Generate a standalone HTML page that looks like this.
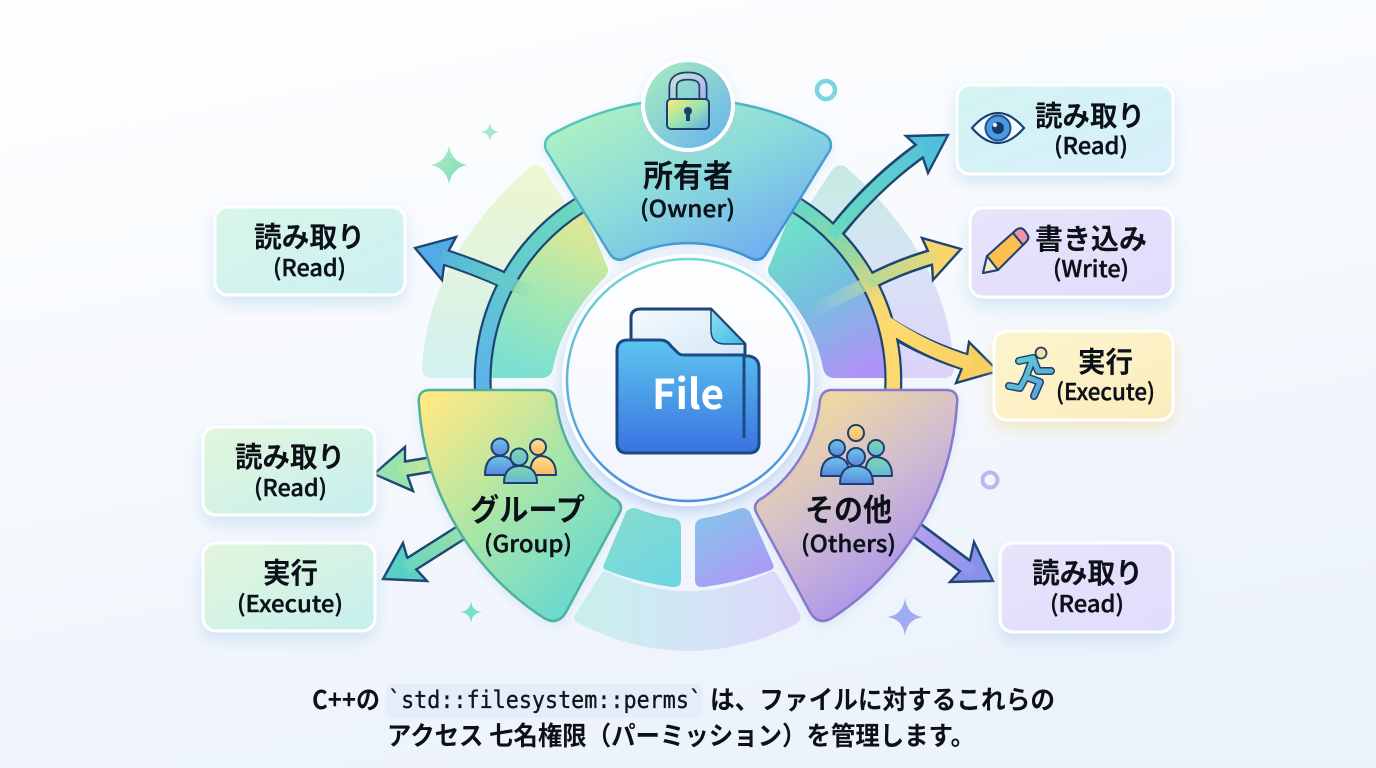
<!DOCTYPE html>
<html lang="ja">
<head>
<meta charset="utf-8">
<title>std::filesystem::perms</title>
<style>
html,body{margin:0;padding:0;width:1376px;height:768px;overflow:hidden;background:#f6fafd}
svg{display:block}
text{font-family:"Noto Sans CJK JP","Liberation Sans",sans-serif;fill:#0c1018}
.jp{font-size:28.5px;font-weight:700}
.en{font-size:23px;font-weight:500;stroke:#0c1018;stroke-width:.4px}
.big{font-size:31px;font-weight:700}
.cap{font-size:26px;font-weight:700}
.code{font-family:"DejaVu Sans Mono","Liberation Mono",monospace;font-size:24px;font-weight:400;fill:#10151c;stroke:#10151c;stroke-width:.35px}
.d{fill:none;stroke:#1d4673;stroke-linecap:butt}
.f{fill:none;stroke-linecap:butt}
.h{stroke:#1d4673;stroke-width:2.4;stroke-linejoin:miter}
.o{stroke:#1f3f73;stroke-width:2;stroke-linejoin:round}
</style>
</head>
<body>
<svg width="1376" height="768" viewBox="0 0 1376 768" xmlns="http://www.w3.org/2000/svg">
<defs>
<linearGradient id="bg" x1="0" y1="0" x2="0.35" y2="1"><stop offset="0" stop-color="#fdfeff"/><stop offset=".5" stop-color="#f7fafe"/><stop offset="1" stop-color="#edf3fb"/></linearGradient>
<filter id="sh" x="-20%" y="-20%" width="140%" height="150%"><feDropShadow dx="0" dy="8" stdDeviation="8" flood-color="#9cc4e4" flood-opacity=".38"/></filter>
<filter id="shy" x="-20%" y="-20%" width="140%" height="150%"><feDropShadow dx="0" dy="7" stdDeviation="8" flood-color="#f0d890" flood-opacity=".5"/></filter>
<filter id="shc" x="-20%" y="-20%" width="140%" height="140%"><feDropShadow dx="0" dy="5" stdDeviation="8" flood-color="#6fa0e8" flood-opacity=".5"/></filter>
<filter id="shs" x="-20%" y="-20%" width="140%" height="140%"><feDropShadow dx="0" dy="3" stdDeviation="5" flood-color="#9cc4e4" flood-opacity=".3"/></filter>

<linearGradient id="c1" x1="0" y1="0" x2="1" y2="1"><stop offset="0" stop-color="#d2f4f2"/><stop offset="1" stop-color="#d8effa"/></linearGradient>
<linearGradient id="c2" x1="0" y1="0" x2="1" y2="1"><stop offset="0" stop-color="#e8e4fb"/><stop offset="1" stop-color="#e0dcfb"/></linearGradient>
<linearGradient id="c3" x1="0" y1="0" x2="1" y2="1"><stop offset="0" stop-color="#fdf5cf"/><stop offset="1" stop-color="#fbecbc"/></linearGradient>
<linearGradient id="c4" x1="0" y1="0" x2="1" y2="1"><stop offset="0" stop-color="#d8f6e8"/><stop offset="1" stop-color="#ccf0f3"/></linearGradient>
<linearGradient id="c5" x1="0" y1="0" x2="1" y2="1"><stop offset="0" stop-color="#e2f6da"/><stop offset="1" stop-color="#c6eff0"/></linearGradient>

<linearGradient id="lo" x1="0" y1="0" x2="0" y2="1"><stop offset="0" stop-color="#eef6cf"/><stop offset="1" stop-color="#d2f1f0"/></linearGradient>
<linearGradient id="li" x1="0.7" y1="0" x2="0.4" y2="1"><stop offset="0" stop-color="#e6e98e"/><stop offset=".55" stop-color="#a3e8b4"/><stop offset="1" stop-color="#7be0d0"/></linearGradient>
<linearGradient id="ro" x1="0" y1="0" x2="0" y2="1"><stop offset="0" stop-color="#c6ebe2"/><stop offset=".45" stop-color="#d8e4f6"/><stop offset="1" stop-color="#ddd3fa"/></linearGradient>
<linearGradient id="ri" x1="0.3" y1="0" x2="0.7" y2="1"><stop offset="0" stop-color="#6de4c6"/><stop offset=".5" stop-color="#76bfe0"/><stop offset="1" stop-color="#ae94f6"/></linearGradient>

<linearGradient id="rl" gradientUnits="userSpaceOnUse" x1="560" y1="200" x2="480" y2="390"><stop offset="0" stop-color="#6bd8bd"/><stop offset=".5" stop-color="#62c6d2"/><stop offset="1" stop-color="#5cb2ea"/></linearGradient>
<linearGradient id="rr" gradientUnits="userSpaceOnUse" x1="800" y1="200" x2="895" y2="390"><stop offset="0" stop-color="#62d8c4"/><stop offset=".35" stop-color="#9bd6a0"/><stop offset=".6" stop-color="#fbd772"/><stop offset="1" stop-color="#fdd96f"/></linearGradient>

<linearGradient id="a1" gradientUnits="userSpaceOnUse" x1="838" y1="228" x2="948" y2="135"><stop offset="0" stop-color="#66d9c0"/><stop offset="1" stop-color="#52bfdc"/></linearGradient>
<linearGradient id="a2" gradientUnits="userSpaceOnUse" x1="870" y1="282" x2="960" y2="250"><stop offset="0" stop-color="#b5d893"/><stop offset="1" stop-color="#fbd873"/></linearGradient>
<linearGradient id="a2f" gradientUnits="userSpaceOnUse" x1="810" y1="312" x2="872" y2="281"><stop offset="0" stop-color="#a8cfd8" stop-opacity="0"/><stop offset="1" stop-color="#a6d6a8"/></linearGradient>
<linearGradient id="a3" gradientUnits="userSpaceOnUse" x1="890" y1="330" x2="998" y2="371"><stop offset="0" stop-color="#fdd96f"/><stop offset="1" stop-color="#f9cf62"/></linearGradient>
<linearGradient id="a4" gradientUnits="userSpaceOnUse" x1="500" y1="280" x2="415" y2="248"><stop offset="0" stop-color="#64ccc6"/><stop offset="1" stop-color="#50a8e6"/></linearGradient>
<linearGradient id="a4f" gradientUnits="userSpaceOnUse" x1="505" y1="281" x2="552" y2="301"><stop offset="0" stop-color="#7ad8bd"/><stop offset="1" stop-color="#b8e8a8" stop-opacity="0"/></linearGradient>
<linearGradient id="a5" gradientUnits="userSpaceOnUse" x1="430" y1="465" x2="374" y2="474"><stop offset="0" stop-color="#c2e89a"/><stop offset="1" stop-color="#8ee2b0"/></linearGradient>
<linearGradient id="a6" gradientUnits="userSpaceOnUse" x1="460" y1="530" x2="383" y2="579"><stop offset="0" stop-color="#94e2a8"/><stop offset="1" stop-color="#56cfc6"/></linearGradient>
<linearGradient id="a7" gradientUnits="userSpaceOnUse" x1="915" y1="530" x2="993" y2="581"><stop offset="0" stop-color="#b6a0f0"/><stop offset="1" stop-color="#8790ea"/></linearGradient>

<linearGradient id="own" x1="0.05" y1="0.1" x2="0.85" y2="1"><stop offset="0" stop-color="#b0f2c2"/><stop offset=".5" stop-color="#8adadc"/><stop offset="1" stop-color="#6ca8f4"/></linearGradient>
<linearGradient id="owns" x1="0" y1="0" x2="1" y2="1"><stop offset="0" stop-color="#58cdb8"/><stop offset="1" stop-color="#3b86d8"/></linearGradient>
<linearGradient id="grp" x1="0.05" y1="0.05" x2="0.8" y2="0.95"><stop offset="0" stop-color="#ffe985"/><stop offset=".5" stop-color="#a8e6a8"/><stop offset="1" stop-color="#66d8d2"/></linearGradient>
<linearGradient id="oth" x1="0.15" y1="0.05" x2="0.7" y2="0.95"><stop offset="0" stop-color="#f8dd98"/><stop offset=".5" stop-color="#cfbdd0"/><stop offset="1" stop-color="#a68cf2"/></linearGradient>

<linearGradient id="bt" x1="0.2" y1="0" x2="0.8" y2="1"><stop offset="0" stop-color="#86dccf"/><stop offset="1" stop-color="#6fd6e2"/></linearGradient>
<linearGradient id="bp" x1="0.2" y1="0" x2="0.8" y2="1"><stop offset="0" stop-color="#86c4ea"/><stop offset="1" stop-color="#b096f8"/></linearGradient>
<linearGradient id="bb" x1="0" y1="0" x2="1" y2="0"><stop offset="0" stop-color="#c8f0ea"/><stop offset=".5" stop-color="#d3e6f6"/><stop offset="1" stop-color="#dcd6fa"/></linearGradient>

<linearGradient id="cs" x1="0" y1="0" x2="0" y2="1"><stop offset="0" stop-color="#72d8d8"/><stop offset="1" stop-color="#4c8fe4"/></linearGradient>
<linearGradient id="cf" x1="0" y1="0" x2="0" y2="1"><stop offset="0" stop-color="#ffffff"/><stop offset="1" stop-color="#f1f5fd"/></linearGradient>
<linearGradient id="fold" x1="0" y1="0" x2="0" y2="1"><stop offset="0" stop-color="#5cc6ee"/><stop offset="1" stop-color="#3a72e0"/></linearGradient>
<linearGradient id="pap" x1="0" y1="0" x2="1" y2="1"><stop offset="0" stop-color="#f5fafe"/><stop offset="1" stop-color="#cfe4f6"/></linearGradient>
<linearGradient id="ear" x1="0" y1="0" x2="1" y2="1"><stop offset="0" stop-color="#8fe0f0"/><stop offset="1" stop-color="#3cbbe8"/></linearGradient>

<linearGradient id="badge" x1="0" y1="0" x2="1" y2="1"><stop offset="0" stop-color="#aef0bc"/><stop offset="1" stop-color="#62aef0"/></linearGradient>
<linearGradient id="lk" x1="0" y1="0" x2="1" y2="1"><stop offset="0" stop-color="#ffea70"/><stop offset=".5" stop-color="#9be6b0"/><stop offset="1" stop-color="#5ea6ee"/></linearGradient>
<linearGradient id="sk" x1="0" y1="0" x2="1" y2="1"><stop offset="0" stop-color="#c2e4d8"/><stop offset="1" stop-color="#b0b2e8"/></linearGradient>
<linearGradient id="pb" x1="0" y1="0" x2="0" y2="1"><stop offset="0" stop-color="#6cc6e6"/><stop offset="1" stop-color="#5a86e2"/></linearGradient>
<linearGradient id="pg" x1="0" y1="0" x2="0" y2="1"><stop offset="0" stop-color="#7fd8ae"/><stop offset="1" stop-color="#66b8d8"/></linearGradient>
<linearGradient id="py" x1="0" y1="0" x2="0" y2="1"><stop offset="0" stop-color="#fde08a"/><stop offset="1" stop-color="#f8b968"/></linearGradient>
<linearGradient id="run" x1="0" y1="0" x2="1" y2="1"><stop offset="0" stop-color="#5ed6c4"/><stop offset="1" stop-color="#5c98e4"/></linearGradient>
<linearGradient id="spk" x1="0" y1="0" x2="1" y2="1"><stop offset="0" stop-color="#b4ecc0"/><stop offset="1" stop-color="#78dcc0"/></linearGradient>
<linearGradient id="spp" x1="0" y1="0" x2="1" y2="1"><stop offset="0" stop-color="#8ab8f0"/><stop offset="1" stop-color="#b4a0f4"/></linearGradient>
</defs>

<rect width="1376" height="768" fill="url(#bg)"/>

<!-- faded sectors -->
<path d="M527,170 Q535,160 544,170 L606,264 Q610,270 606,276 Q562,320 553,368 Q551,378 541,378 L432,378 Q422,378 422,368 Q428,258 527,170Z" fill="url(#lo)"/>
<path d="M849,170 Q841,160 832,170 L770,264 Q766,270 770,276 Q814,320 823,368 Q825,378 835,378 L944,378 Q954,378 954,368 Q948,258 849,170Z" fill="url(#ro)"/>
<path d="M584,210 L606,264 Q610,270 606,276 Q562,320 553,368 Q551,378 541,378 L492,378 A197 197 0 0 1 584,210Z" fill="url(#li)"/>
<path d="M792,210 L770,264 Q766,270 770,276 Q814,320 823,368 Q825,378 835,378 L884,378 A197 197 0 0 0 792,210Z" fill="url(#ri)"/>

<!-- bottom pieces -->
<path d="M576,622 Q572,618 577,612 L601,574 Q604,570 608,572 Q688,610 770,572 Q774,570 777,574 L799,612 Q803,620 796,624 Q688,678 580,624Z" fill="url(#bb)"/>
<path d="M626,512 Q631,506 638,509 Q656,516 672,518 Q681,519 681,527 L681,580 Q681,588 672,587 Q636,582 606,570 Q602,568 604,564Z" fill="url(#bt)"/>
<path d="M750,512 Q745,506 738,509 Q720,516 704,518 Q695,519 695,527 L695,580 Q695,588 704,587 Q740,582 771,570 Q775,568 773,564Z" fill="url(#bp)"/>

<!-- dark layers -->
<path class="d" stroke-width="18" d="M580,205 A206 206 0 0 0 483,392"/>
<path class="d" stroke-width="18" d="M796,205 A206 206 0 0 1 893,392"/>
<path class="d" stroke-width="17" d="M838,229 Q875,182 925,147"/>
<path class="d" stroke-width="17" d="M872,281 Q900,266 936,256"/>
<path class="d" stroke-width="18" d="M888,326 Q925,350 972,364"/>
<path class="d" stroke-width="17" d="M504,280 Q475,267 441,256"/>
<path class="d" stroke-width="17" d="M440,463 L398,470"/>
<path class="d" stroke-width="17" d="M465,530 L405,568"/>
<path class="d" stroke-width="17" d="M910,525 L973,572"/>

<!-- arrow heads -->
<polygon class="h" fill="#52bfdc" points="948,135 906,136 917,146 923,158 928,173"/>
<polygon class="h" fill="#fad56e" points="961,249 922,238 928,251 932,265 933,280"/>
<polygon class="h" fill="#f9cf62" points="998,371 969,342 967,355 962,368 956,383"/>
<polygon class="h" fill="#52abe6" points="415,248 456,237 449,250 444,266 442,280"/>
<polygon class="h" fill="#98e4ae" points="374,474 405,447 405,462 408,477 413,491"/>
<polygon class="h" fill="#58d0c6" points="383,579 403,543 407,557 415,568 427,581"/>
<polygon class="h" fill="#8790ea" points="993,581 974,542 970,560 961,570 950,582"/>

<!-- fills -->
<path class="f" stroke="url(#a2f)" stroke-width="13" d="M810,312 L872,281"/>
<path class="f" stroke="url(#a4f)" stroke-width="13" d="M505,281 L552,301"/>
<path class="f" stroke="url(#rl)" stroke-width="13.5" d="M580,205 A206 206 0 0 0 483,392"/>
<path class="f" stroke="url(#rr)" stroke-width="13.5" d="M796,205 A206 206 0 0 1 893,392"/>
<path class="f" stroke="url(#a1)" stroke-width="12" d="M832,236 Q875,182 925,147"/>
<path class="f" stroke="url(#a2)" stroke-width="12" d="M868,283 Q900,266 936,256"/>
<path class="f" stroke="url(#a3)" stroke-width="14" d="M885,322 Q925,350 972,364"/>
<path class="f" stroke="url(#a4)" stroke-width="13" d="M508,282 Q475,267 441,256"/>
<path class="f" stroke="url(#a5)" stroke-width="12" d="M440,463 L398,470"/>
<path class="f" stroke="url(#a6)" stroke-width="12" d="M465,530 L405,568"/>
<path class="f" stroke="url(#a7)" stroke-width="12" d="M910,525 L973,572"/>

<!-- Owner sector -->
<path d="M556,132 A281 281 0 0 1 820,132 Q834,138 830,150 L766,254 Q760,263 750,258 A137 137 0 0 0 626,258 Q616,263 610,254 L546,150 Q542,138 556,132Z" fill="url(#own)" stroke="url(#owns)" stroke-width="2.5" filter="url(#shs)"/>
<!-- Group shield -->
<path d="M430,390 L544,390 Q554,390 556,400 A138 138 0 0 0 612,497 Q624,503 620,512 L566,612 Q558,626 544,618 A275 275 0 0 1 419,404 Q417,390 430,390Z" fill="url(#grp)" stroke="#4fb29a" stroke-width="2.5" filter="url(#shs)"/>
<!-- Others shield -->
<path d="M946,390 L832,390 Q822,390 820,400 A138 138 0 0 1 764,497 Q752,503 756,512 L810,612 Q818,626 832,618 A275 275 0 0 0 957,404 Q959,390 946,390Z" fill="url(#oth)" stroke="#8a78cf" stroke-width="2.5" filter="url(#shs)"/>

<!-- Center circle -->
<circle cx="688" cy="380" r="126" fill="#fff" opacity=".9" filter="url(#shc)"/>
<circle cx="688" cy="380" r="121" fill="url(#cf)" stroke="url(#cs)" stroke-width="2.5"/>

<!-- Folder -->
<path d="M631,340 V318 Q631,309 641,309 L711,309 L745,344 V372 L631,372Z" fill="url(#pap)" stroke="#1d4673" stroke-width="3" stroke-linejoin="round"/>
<path d="M711,309 L745,344 H725 Q711,344 711,330Z" fill="url(#ear)" stroke="#1d4673" stroke-width="1.5" stroke-linejoin="round"/>
<path d="M628,340 H660 Q667,340 671,346 L678,353 Q680,355 684,355 H744 L745,356 H749 Q759,358 759,368 V443 Q759,453 749,453 H627 Q617,453 617,443 V351 Q617,340 628,340Z" fill="url(#fold)" stroke="#1d4a86" stroke-width="3" stroke-linejoin="round"/>
<path d="M744,355 V438" stroke="#1d4a86" stroke-width="3" fill="none"/>
<text x="652" y="409" textLength="72" lengthAdjust="spacingAndGlyphs" style="font-size:41px;font-weight:700;fill:#fff">File</text>

<!-- Owner badge -->
<circle cx="688" cy="105" r="45" fill="url(#badge)" stroke="#fff" stroke-width="4" filter="url(#shs)"/>
<path d="M673,99 V87 Q673,76 688,76 Q703,76 703,87 V99" fill="none" stroke="#1f3f73" stroke-width="9"/>
<path d="M673,99 V87 Q673,76 688,76 Q703,76 703,87 V99" fill="none" stroke="url(#sk)" stroke-width="5.5"/>
<rect x="667" y="99" width="42" height="30" rx="4" fill="url(#lk)" stroke="#1f3f73" stroke-width="2"/>
<circle cx="688" cy="111" r="4" fill="#1f3f73"/><rect x="686" y="112" width="4" height="9" fill="#1f3f73"/>

<!-- people -->
<g class="o">
<circle class="o" cx="538" cy="447" r="8" fill="url(#py)"/>
<path class="o" fill="url(#py)" d="M530,475 Q530,456 542,456 Q556,458 556,475Z"/>
<circle class="o" cx="500" cy="447" r="8.5" fill="url(#pb)"/>
<path class="o" fill="url(#pb)" d="M485,475 Q485,456 500,456 Q515,456 515,475Z"/>
<circle class="o" cx="519" cy="457" r="8.5" fill="url(#pg)"/>
<path class="o" fill="url(#pg)" d="M504,483 Q504,466 520,466 Q537,466 537,483Z"/>
<circle class="o" cx="856" cy="433" r="8" fill="url(#py)"/>
<circle class="o" cx="837" cy="448" r="8" fill="url(#pb)"/>
<path class="o" fill="url(#pb)" d="M821,476 Q821,457 837,457 Q849,458 850,476Z"/>
<circle class="o" cx="876" cy="448" r="8" fill="url(#pg)"/>
<path class="o" fill="url(#pg)" d="M865,476 Q865,457 876,457 Q892,458 892,476Z"/>
<circle class="o" cx="856" cy="457" r="9" fill="url(#pb)"/>
<path class="o" fill="url(#pb)" d="M840,484 Q840,466 856,466 Q873,466 873,484Z"/>
</g>

<!-- sparkles / rings -->
<path d="M449,146 Q452,162 467,165 Q452,168 449,184 Q446,168 431,165 Q446,162 449,146Z" fill="url(#spk)"/>
<path d="M490,123 Q491,131 499,132 Q491,133 490,141 Q489,133 481,132 Q489,131 490,123Z" fill="#a6e8cc"/>
<path d="M471,601 Q472,611 482,612 Q472,613 471,623 Q470,613 460,612 Q470,611 471,601Z" fill="#7be0c8"/>
<path d="M905,598 Q907,615 923,617 Q907,619 905,636 Q903,619 887,617 Q903,615 905,598Z" fill="url(#spp)"/>
<circle cx="826" cy="90" r="9" fill="none" stroke="#7dd4e0" stroke-width="4.5"/>
<circle cx="990" cy="480" r="7.5" fill="none" stroke="#bdb6ee" stroke-width="4"/>

<!-- Cards -->
<rect x="957" y="85" width="216" height="89" rx="13" fill="url(#c1)" stroke="#fff" stroke-width="3" filter="url(#sh)"/>
<rect x="970" y="208" width="203" height="89" rx="13" fill="url(#c2)" stroke="#fff" stroke-width="3" filter="url(#sh)"/>
<rect x="994" y="331" width="179" height="89" rx="13" fill="url(#c3)" stroke="#fff" stroke-width="3" filter="url(#shy)"/>
<rect x="1000" y="543" width="173" height="89" rx="13" fill="url(#c2)" stroke="#fff" stroke-width="3" filter="url(#sh)"/>
<rect x="215" y="207" width="190" height="88" rx="13" fill="url(#c4)" stroke="#fff" stroke-width="3" filter="url(#sh)"/>
<rect x="203" y="427" width="172" height="88" rx="13" fill="url(#c5)" stroke="#fff" stroke-width="3" filter="url(#sh)"/>
<rect x="203" y="543" width="172" height="88" rx="13" fill="url(#c5)" stroke="#fff" stroke-width="3" filter="url(#sh)"/>

<!-- Eye -->
<path d="M972,128 Q998,98 1024,128 Q998,158 972,128Z" fill="#f4fbff" stroke="#1f3f73" stroke-width="2.2"/>
<circle cx="998" cy="128" r="12.5" fill="#4a9ce0" stroke="#1f4f8c" stroke-width="2"/>
<circle cx="998" cy="128" r="6" fill="#173a6b"/><circle cx="995" cy="125" r="2" fill="#fff"/>
<!-- Pencil -->
<path d="M983,273 L987,256 L1016,230 Q1021,226 1025,231 L1027,234 Q1030,238 1026,242 L998,270Z" fill="#fbc04e" stroke="#1f3f73" stroke-width="2" stroke-linejoin="round"/>
<path d="M1013,233 L1016,230 Q1021,226 1025,231 L1027,234 Q1030,238 1026,242 L1023,245Z" fill="#ef93a8" stroke="#1f3f73" stroke-width="2" stroke-linejoin="round"/>
<path d="M983,273 L987,256 L998,270Z" fill="#f5ead2" stroke="#1f3f73" stroke-width="2" stroke-linejoin="round"/>
<!-- Runner -->
<path d="M1019,361 L1033,358 L1038,371 L1051,371 M1033,358 L1026,377 L1040,382 L1034,396 M1026,377 L1020,388 L1009,386" fill="none" stroke="#1f3f73" stroke-width="8" stroke-linecap="round" stroke-linejoin="round"/>
<path d="M1019,361 L1033,358 L1038,371 L1051,371 M1033,358 L1026,377 L1040,382 L1034,396 M1026,377 L1020,388 L1009,386" fill="none" stroke="url(#run)" stroke-width="5" stroke-linecap="round" stroke-linejoin="round"/>
<circle cx="1041" cy="353" r="5.5" fill="#f7e0a8" stroke="#1f3f73" stroke-width="1.8"/>

<!-- Labels -->
<text class="big" x="643" y="187" textLength="90" lengthAdjust="spacingAndGlyphs">所有者</text>
<text class="en" x="640" y="217" textLength="95" lengthAdjust="spacingAndGlyphs">(Owner)</text>
<text class="big" x="470" y="521" textLength="115" lengthAdjust="spacingAndGlyphs">グループ</text>
<text class="en" x="484" y="552" textLength="88" lengthAdjust="spacingAndGlyphs">(Group)</text>
<text class="big" x="805" y="521" textLength="87" lengthAdjust="spacingAndGlyphs">その他</text>
<text class="en" x="801" y="552" textLength="95" lengthAdjust="spacingAndGlyphs">(Others)</text>

<text class="jp" x="1035" y="126" textLength="110" lengthAdjust="spacingAndGlyphs">読み取り</text>
<text class="en" x="1054" y="154" textLength="74" lengthAdjust="spacingAndGlyphs">(Read)</text>
<text class="jp" x="1035" y="249" textLength="112" lengthAdjust="spacingAndGlyphs">書き込み</text>
<text class="en" x="1053" y="277" textLength="76" lengthAdjust="spacingAndGlyphs">(Write)</text>
<text class="jp" x="1078" y="372" textLength="55" lengthAdjust="spacingAndGlyphs">実行</text>
<text class="en" x="1056" y="400" textLength="99" lengthAdjust="spacingAndGlyphs">(Execute)</text>
<text class="jp" x="1032" y="583" textLength="111" lengthAdjust="spacingAndGlyphs">読み取り</text>
<text class="en" x="1050" y="612" textLength="74" lengthAdjust="spacingAndGlyphs">(Read)</text>
<text class="jp" x="254" y="247" textLength="111" lengthAdjust="spacingAndGlyphs">読み取り</text>
<text class="en" x="273" y="276" textLength="73" lengthAdjust="spacingAndGlyphs">(Read)</text>
<text class="jp" x="235" y="467" textLength="110" lengthAdjust="spacingAndGlyphs">読み取り</text>
<text class="en" x="254" y="496" textLength="73" lengthAdjust="spacingAndGlyphs">(Read)</text>
<text class="jp" x="263" y="583" textLength="55" lengthAdjust="spacingAndGlyphs">実行</text>
<text class="en" x="237" y="612" textLength="106" lengthAdjust="spacingAndGlyphs">(Execute)</text>

<!-- Caption -->
<rect x="386" y="684" width="317" height="34" rx="5" fill="#e4eef8"/>
<text class="cap" x="312" y="709" textLength="68" lengthAdjust="spacingAndGlyphs">C++の</text>
<text class="code" x="388" y="708" textLength="314" lengthAdjust="spacingAndGlyphs">`std::filesystem::perms`</text>
<text class="cap" x="710" y="709" textLength="345" lengthAdjust="spacingAndGlyphs">は、ファイルに対するこれらの</text>
<text class="cap" x="387" y="745" textLength="588" lengthAdjust="spacingAndGlyphs">アクセス 七名権限（パーミッション）を管理します。</text>
</svg>
</body>
</html>
